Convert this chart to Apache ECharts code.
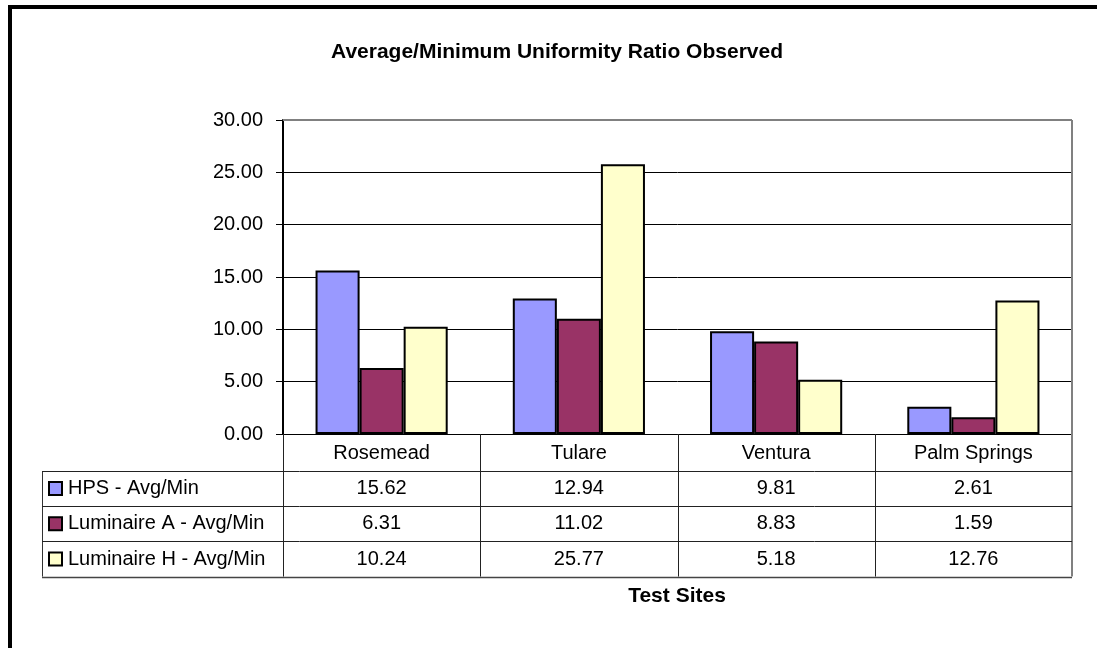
<!DOCTYPE html>
<html>
<head>
<meta charset="utf-8">
<script src="https://cdn.jsdelivr.net/npm/echarts@6/dist/echarts.min.js"></script>
<style>
  html, body { margin: 0; padding: 0; background: #fff; }
  #chart { width: 1097px; height: 648px; }
</style>
</head>
<body>
<div id="chart"></div>
<script>
// Test sites along the category axis
const sites = ['Rosemead', 'Tulare', 'Ventura', 'Palm Springs'];
// Series names shown in the data table
const seriesNames = ['HPS - Avg/Min', 'Luminaire A - Avg/Min', 'Luminaire H - Avg/Min'];
// Average/minimum uniformity ratios per site
const hps = [15.62, 12.94, 9.81, 2.61];
const luminaireA = [6.31, 11.02, 8.83, 1.59];
const luminaireH = [10.24, 25.77, 5.18, 12.76];
const colors = ['#9999FF', '#993366', '#FFFFCC'];
const yTicks = { min: 0, max: 30, interval: 5 };

const FONT = 'Liberation Sans, Arial, sans-serif';
const FS = 20;     // regular text size
const FSB = 21;    // bold titles
// Plot area and table geometry
const G = { left: 283, top: 120, width: 789, height: 314 };
const tableLeft = 42;
const rowH = 35.2;
const headerBottom = G.top + G.height + 37;
const plotRight = G.left + G.width;
const colW = G.width / sites.length;

const values = [hps, luminaireA, luminaireH];

const graphics = [];
// Outer frame of the chart sheet (left and top edges)
graphics.push({ type: 'rect', shape: { x: 8, y: 5, width: 1097, height: 4 }, style: { fill: '#000' }, z: 100 });
graphics.push({ type: 'rect', shape: { x: 8, y: 5, width: 4, height: 648 }, style: { fill: '#000' }, z: 100 });
// Title
graphics.push({
  type: 'text', x: 557, y: 52, z: 100,
  style: { text: 'Average/Minimum Uniformity Ratio Observed', font: 'bold ' + FSB + 'px ' + FONT, fill: '#000', textAlign: 'center', textVerticalAlign: 'middle' }
});
// Axis title under the table
graphics.push({
  type: 'text', x: 677, y: 596, z: 100,
  style: { text: 'Test Sites', font: 'bold ' + FSB + 'px ' + FONT, fill: '#000', textAlign: 'center', textVerticalAlign: 'middle' }
});
// Plot area top and right border
graphics.push({ type: 'line', shape: { x1: G.left, y1: G.top, x2: plotRight, y2: G.top }, style: { stroke: '#808080', lineWidth: 2 }, z: 50 });
graphics.push({ type: 'line', shape: { x1: plotRight, y1: G.top, x2: plotRight, y2: G.top + G.height }, style: { stroke: '#808080', lineWidth: 2 }, z: 50 });

// Data table
const tableBottom = headerBottom + rowH * seriesNames.length;
// vertical separators between sites
for (let i = 1; i < sites.length; i++) {
  const x = Math.round(G.left + colW * i) + 0.5;
  graphics.push({ type: 'line', shape: { x1: x, y1: G.top + G.height, x2: x, y2: tableBottom }, style: { stroke: '#222', lineWidth: 1 }, z: 50 });
}
graphics.push({ type: 'line', shape: { x1: G.left + 0.5, y1: G.top + G.height, x2: G.left + 0.5, y2: tableBottom }, style: { stroke: '#222', lineWidth: 1 }, z: 50 });
graphics.push({ type: 'line', shape: { x1: plotRight, y1: G.top + G.height, x2: plotRight, y2: tableBottom }, style: { stroke: '#808080', lineWidth: 2 }, z: 50 });
graphics.push({ type: 'line', shape: { x1: tableLeft + 0.5, y1: headerBottom, x2: tableLeft + 0.5, y2: tableBottom }, style: { stroke: '#333', lineWidth: 1 }, z: 50 });
// horizontal row lines
for (let r = 0; r <= seriesNames.length; r++) {
  const y = Math.round(headerBottom + rowH * r) + 0.5;
  const last = r === seriesNames.length;
  graphics.push({ type: 'line', shape: { x1: tableLeft, y1: y, x2: plotRight, y2: y }, style: { stroke: last ? '#444' : '#222', lineWidth: last ? 1.5 : 1 }, z: 50 });
}
// row headers with legend keys, and the values
seriesNames.forEach((name, r) => {
  const cy = headerBottom + rowH * r + rowH / 2;
  graphics.push({ type: 'rect', shape: { x: 49, y: cy - 6.5, width: 13, height: 13 }, style: { fill: colors[r], stroke: '#000', lineWidth: 2 }, z: 60 });
  graphics.push({ type: 'text', x: 68, y: cy, z: 60, style: { text: name, font: FS + 'px ' + FONT, fill: '#000', textAlign: 'left', textVerticalAlign: 'middle' } });
  values[r].forEach((v, c) => {
    graphics.push({ type: 'text', x: G.left + colW * (c + 0.5), y: cy, z: 60, style: { text: v.toFixed(2), font: FS + 'px ' + FONT, fill: '#000', textAlign: 'center', textVerticalAlign: 'middle' } });
  });
});

const chart = echarts.init(document.getElementById('chart'), null, { renderer: 'canvas' });
chart.setOption({
  animation: false,
  backgroundColor: '#fff',
  grid: { left: G.left, top: G.top, width: G.width, height: G.height, containLabel: false },
  xAxis: {
    type: 'category',
    data: sites,
    axisLine: { show: true, lineStyle: { color: '#000', width: 1 } },
    axisTick: { show: false },
    axisLabel: { color: '#000', fontSize: FS, fontFamily: FONT, margin: 9, interval: 0 },
    splitLine: { show: false }
  },
  yAxis: {
    type: 'value',
    min: yTicks.min, max: yTicks.max, interval: yTicks.interval,
    axisLine: { show: true, lineStyle: { color: '#000', width: 2 } },
    axisTick: { show: true, length: 7, lineStyle: { color: '#000' } },
    axisLabel: { color: '#000', fontSize: FS, fontFamily: FONT, margin: 20, formatter: v => v.toFixed(2) },
    splitLine: { show: true, lineStyle: { color: '#000', width: 1 } }
  },
  series: seriesNames.map((name, i) => ({
    name: name,
    type: 'bar',
    data: values[i],
    barGap: '0%',
    barCategoryGap: '33%',
    itemStyle: { color: colors[i], borderColor: '#000', borderWidth: 2 }
  })),
  graphic: graphics
});
</script>
</body>
</html>
